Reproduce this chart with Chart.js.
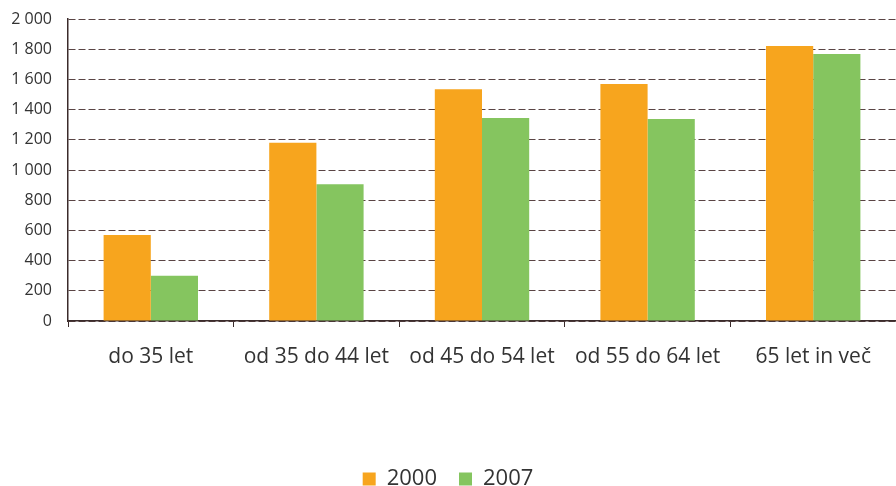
<!DOCTYPE html>
<html lang="sl">
<head>
  <meta charset="UTF-8" />
  <title>2000 / 2007 po starostnih skupinah</title>
  <script src="https://cdn.jsdelivr.net/npm/chart.js@4.4.0"></script>
  <style>
    * { margin: 0; padding: 0; box-sizing: border-box; }
    body { background: #fff; width: 896px; height: 486px; overflow: hidden; }
    .wrap { position: relative; width: 896px; height: 486px; }
  </style>
</head>
<body>
  <div class="wrap"><canvas id="chart"></canvas></div>
  <script>
    // data
    const categories = ['do 35 let', 'od 35 do 44 let', 'od 45 do 54 let', 'od 55 do 64 let', '65 let in več'];
    const values2000 = [570, 1180, 1535, 1570, 1822];
    const values2007 = [300, 905, 1344, 1338, 1768];
    const seriesLabels = ['2000', '2007'];

    const FONT = "'Open Sans', sans-serif";
    const AXIS = '#3b2b2b';

    // thousands with a space: 1 800
    const fmt = v => String(v).replace(/\B(?=(\d{3})+(?!\d))/g, ' ');

    new Chart(document.getElementById('chart'), {
      type: 'bar',
      data: {
        labels: categories,
        datasets: [
          { label: seriesLabels[0], data: values2000, backgroundColor: '#f7a51e' },
          { label: seriesLabels[1], data: values2007, backgroundColor: '#85c55f' }
        ]
      },
      options: {
        responsive: true,
        maintainAspectRatio: false,
        animation: false,
        datasets: { bar: { categoryPercentage: 0.57, barPercentage: 1.0 } },
        layout: { padding: { top: 19, right: 0, left: 0, bottom: -14 } },
        plugins: {
          tooltip: { enabled: false },
          legend: {
            position: 'bottom',
            labels: {
              font: { family: FONT, size: 22 },
              color: '#333',
              boxWidth: 13,
              boxHeight: 13,
              padding: 22
            }
          }
        },
        scales: {
          x: {
            grid: {
              offset: true,
              drawOnChartArea: false,
              color: AXIS,
              tickLength: 6
            },
            border: { color: AXIS, width: 1.5 },
            ticks: {
              font: { family: FONT, size: 21 },
              color: '#333',
              padding: 17,
              maxRotation: 0,
              autoSkip: false
            },
            afterFit: s => { s.height = 125; }
          },
          y: {
            min: 0,
            max: 2000,
            grid: {
              color: '#5a4444',
              tickColor: 'rgba(0,0,0,0)',
              tickLength: 12,
              lineWidth: 1
            },
            border: { color: AXIS, width: 1.5, dash: [7, 3] },
            ticks: {
              stepSize: 200,
              font: { family: FONT, size: 16 },
              color: '#333',
              padding: 4,
              callback: v => fmt(v)
            },
            afterFit: s => { s.width = 68; }
          }
        }
      }
    });
  </script>
</body>
</html>
